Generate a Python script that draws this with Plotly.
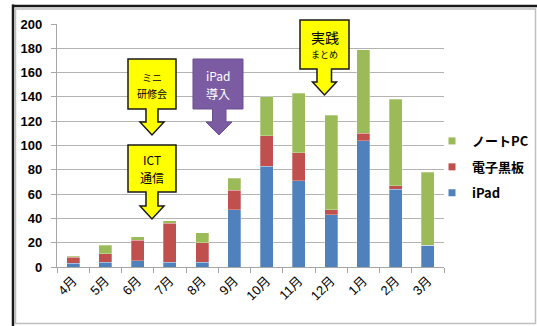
import plotly.graph_objects as go

months = ["4月", "5月", "6月", "7月", "8月", "9月", "10月", "11月", "12月", "1月", "2月", "3月"]
ipad = [3, 4, 5, 4, 4, 47, 83, 71, 43, 104, 64, 18]
board = [5, 7, 17, 32, 16, 16, 25, 23, 4, 6, 3, 0]
notepc = [1, 7, 3, 2, 8, 10, 32, 49, 78, 69, 71, 60]
y_ticks = [0, 20, 40, 60, 80, 100, 120, 140, 160, 180, 200]

series = [("iPad", ipad, "#4F81BD"), ("電子黒板", board, "#C0504D"), ("ノートPC", notepc, "#9BBB59")]

W, H = 537, 326
L, R, T, B = 57, 444, 24, 267
JP = "Noto Sans CJK JP"
LAT = "Liberation Sans, Noto Sans CJK JP"

fig = go.Figure()
for name, vals, col in series:
    fig.add_trace(go.Bar(x=months, y=vals, name=name, marker=dict(color=col, line=dict(color="rgba(255,255,255,0.35)", width=0.8)),
                         showlegend=False))
# legend entries (small squares), top to bottom
for name, vals, col in reversed(series):
    fig.add_trace(go.Scatter(x=[None], y=[None], mode="markers", name=name, legendgroup=name,
                             marker=dict(symbol="square", size=7, color=col)))


def px(x):
    return (x - L) / (R - L)


def py(y):
    return (B - y) / (B - T)


def callout(x0, x1, y0, yb, sx0, sx1, hy, hx0, hx1, tx, ty):
    pts = [(x0, y0), (x1, y0), (x1, yb), (sx1, yb), (sx1, hy), (hx1, hy), (tx, ty), (hx0, hy), (sx0, hy), (sx0, yb), (x0, yb)]
    return "M " + " L ".join(f"{px(a):.5f},{py(b):.5f}" for a, b in pts) + " Z"


shapes = []
yellow = dict(fillcolor="#FFFF00", line=dict(color="#1a1a1a", width=1.5))
purple = dict(fillcolor="#7B5CA3", line=dict(color="#6A4E90", width=1))
shapes.append(dict(type="path", xref="paper", yref="paper", path=callout(128, 176, 59, 109, 146, 158, 122, 140, 164, 152, 135), **yellow))
shapes.append(dict(type="path", xref="paper", yref="paper", path=callout(128, 176, 145, 192, 146, 158, 206, 140, 164, 152, 219), **yellow))
shapes.append(dict(type="path", xref="paper", yref="paper", path=callout(193, 243, 59, 109, 212.5, 226, 122, 206, 232, 219, 135), **purple))
shapes.append(dict(type="path", xref="paper", yref="paper", path=callout(300, 349, 20, 69, 317, 331.5, 82, 312.5, 336.5, 324.5, 95), **yellow))
# chart frame
shapes.append(dict(type="rect", xref="paper", yref="paper", x0=px(15.5), x1=px(535.5), y0=py(9), y1=py(323.5),
                   line=dict(color="#BFBFBF", width=1.5), layer="below"))
shapes.append(dict(type="line", xref="paper", yref="paper", x0=px(13), x1=px(13), y0=py(4.5), y1=py(326),
                   line=dict(color="#1a1a1a", width=2.5)))
shapes.append(dict(type="line", xref="paper", yref="paper", x0=px(12), x1=px(537), y0=py(6), y1=py(6),
                   line=dict(color="#1a1a1a", width=2.5)))

annotations = []


def text(x, y, s, size, color="#000000"):
    annotations.append(dict(xref="paper", yref="paper", x=px(x), y=py(y), text=s, showarrow=False,
                            xanchor="center", yanchor="middle", font=dict(family=JP, size=size, color=color)))


text(152, 77.5, "ミニ", 10)
text(152, 93, "研修会", 10)
text(152, 159.5, "ICT", 12)
text(152, 177.5, "通信", 12)
text(218, 75, "iPad", 12, "#FFFFFF")
text(218, 93, "導入", 12, "#FFFFFF")
text(324.5, 37, "実践", 14)
text(324.5, 55, "まとめ", 9)

fig.update_layout(
    width=W, height=H,
    margin=dict(l=L, r=W - R, t=T, b=H - B, pad=0, autoexpand=False),
    barmode="stack", bargap=0.6,
    paper_bgcolor="#FFFFFF", plot_bgcolor="#FFFFFF",
    shapes=shapes, annotations=annotations,
    legend=dict(xref="container", yref="container", x=432 / W, y=1 - 126 / H, xanchor="left", yanchor="top",
                tracegroupgap=6,
                font=dict(family=JP, size=13, color="#000000", weight="bold"),
                itemwidth=30, bgcolor="rgba(0,0,0,0)"),
    xaxis=dict(tickangle=-45, tickfont=dict(family=LAT, size=13, color="#000000"), automargin=False,
               showline=True, linecolor="#A6A6A6", linewidth=1.2, ticks="outside", tickson="boundaries",
               ticklen=5, tickcolor="#A6A6A6", showgrid=False),
    yaxis=dict(range=[0, 200], tickvals=y_ticks, tickfont=dict(family="Liberation Sans", size=13, color="#000000", weight="bold"),
               showline=True, linecolor="#A6A6A6", linewidth=1.2, ticks="outside", ticklen=5, tickcolor="#A6A6A6",
               automargin=False,
               showgrid=True, gridcolor="#B3B3B3", gridwidth=1.2, zeroline=False, ticklabelstandoff=6),
)

fig.write_html("out.html")
